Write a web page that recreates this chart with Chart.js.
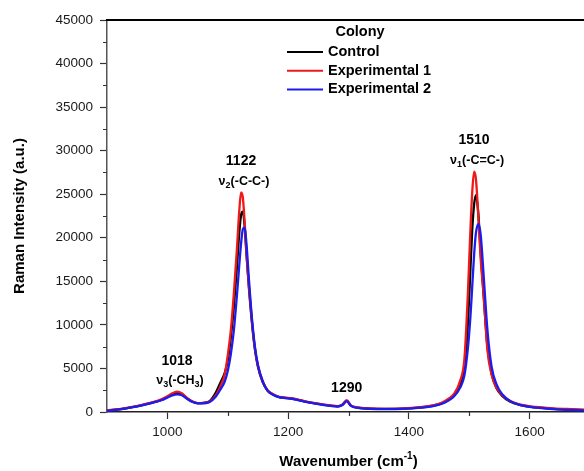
<!DOCTYPE html>
<html>

<head>
    <title>Raman Spectra</title>
    <script src="https://cdn.jsdelivr.net/npm/chart.js"></script>
    <style>
        body {
            background-color: #fff;
            margin: 0;
            padding: 0;
            overflow: hidden;
        }

        #raman-chart {
            display: block;
        }
    </style>
</head>

<body>
    <canvas id="raman-chart" width="596" height="471"></canvas>

    <script>
        // Wavenumber grid (cm-1) shared by all three spectra
        const wavenumber = [900, 920, 940, 960, 975, 990, 1000, 1008, 1016, 1024, 1032, 1040, 1050, 1060, 1070, 1080,
            1088, 1095, 1100, 1105, 1110, 1115, 1119, 1122, 1125, 1128, 1131, 1135, 1140, 1145, 1150, 1158, 1166,
            1175, 1185, 1195, 1205, 1215, 1230, 1250, 1270, 1282, 1290, 1297, 1304, 1315, 1335, 1360, 1390, 1420,
            1440, 1455, 1465, 1475, 1485, 1492, 1498, 1502, 1505, 1508, 1511, 1515, 1519, 1524, 1530, 1537, 1545,
            1555, 1568, 1585, 1610, 1640, 1670, 1700];

        const control = [180, 310, 540, 830, 1080, 1400, 1720, 2020, 2150, 2000, 1600, 1230, 1010, 1050, 1250, 2200,
            3400, 4500, 5900, 8500, 12000, 16500, 20500, 22600, 23000, 21300, 18100, 14300, 10300, 7200, 5200, 3400, 2450,
            2000, 1720, 1620, 1550, 1420, 1170, 920, 730, 650, 840, 1280, 730, 500, 390, 350, 380, 530,
            720, 1020, 1400, 1950, 3200, 5000, 10500, 16500, 21000, 23800, 24900, 22800, 18200, 13200, 7600, 4400, 2750,
            1820, 1180, 780, 520, 370, 270, 180];

        const experimental1 = [200, 330, 560, 850, 1100, 1450, 1800, 2150, 2330, 2150, 1650, 1250, 1020, 1050, 1200, 1900,
            3000, 4300, 6500, 9300, 13500, 18500, 23000, 25200, 24600, 21800, 18300, 14500, 10500, 7300, 5300, 3500, 2500,
            2050, 1750, 1650, 1580, 1450, 1200, 950, 760, 680, 880, 1350, 760, 520, 400, 360, 400, 560,
            760, 1080, 1500, 2100, 3600, 6100, 14000, 21000, 25300, 27600, 26800, 22500, 17500, 13300, 7200, 4300, 2800,
            1900, 1250, 850, 580, 420, 320, 230];

        const experimental2 = [150, 290, 520, 800, 1050, 1350, 1650, 1900, 2030, 1920, 1550, 1200, 980, 1000, 1150, 1750,
            2600, 3500, 4700, 6600, 9300, 13200, 16800, 19300, 21000, 21200, 19300, 15300, 10800, 7500, 5400, 3500, 2450,
            1980, 1700, 1600, 1530, 1400, 1150, 900, 710, 630, 800, 1250, 710, 480, 370, 330, 360, 500,
            680, 950, 1300, 1800, 2800, 4200, 7500, 11000, 14500, 18000, 20500, 21600, 20300, 15500, 9500, 5200, 3200,
            2000, 1250, 780, 500, 340, 230, 150];

        const seriesNames = ['Control', 'Experimental 1', 'Experimental 2'];
        const seriesColors = ['#000000', '#f01818', '#1c1cf0'];
        const legendTitle = 'Colony';

        const xTicks = [1000, 1200, 1400, 1600];
        const xMinorTicks = [1100, 1300, 1500, 1700];
        const yMinorTicks = [2500, 7500, 12500, 17500, 22500, 27500, 32500, 37500, 42500];

        // band labels: position number and vibrational mode ("_n" = subscript)
        const peakNumbers = ['1018', '1122', '1290', '1510'];
        const peakModes = ['ν_3(-CH_3)', 'ν_2(-C-C-)', '', 'ν_1(-C=C-)'];

        const FONT = "'Liberation Sans', Arial, sans-serif";

        function toPoints(values) {
            return values.map((v, i) => ({ x: wavenumber[i], y: v }));
        }

        // draws text with "_d" parts as subscripts, centred on cx
        function drawSubText(ctx, str, cx, cy, size) {
            const parts = str.split(/_(\d)/);
            const big = 'bold ' + size + 'px ' + FONT;
            const small = 'bold ' + Math.round(size * 0.68) + 'px ' + FONT;
            let total = 0;
            parts.forEach((p, i) => {
                ctx.font = i % 2 ? small : big;
                total += ctx.measureText(p).width;
            });
            let x = cx - total / 2;
            ctx.textAlign = 'left';
            ctx.textBaseline = 'middle';
            parts.forEach((p, i) => {
                ctx.font = i % 2 ? small : big;
                ctx.fillText(p, x, i % 2 ? cy + 4 : cy);
                x += ctx.measureText(p).width;
            });
        }

        const extras = {
            id: 'extras',
            afterDatasetsDraw(chart) {
                const ctx = chart.ctx;
                const xs = chart.scales.x;
                const ys = chart.scales.y;
                ctx.save();
                ctx.fillStyle = '#000';
                peakNumbers.forEach((label, k) => {
                    const target = Number(label);
                    // find highest point of any series near the band
                    let best = null;
                    chart.data.datasets.forEach(ds => {
                        ds.data.forEach(p => {
                            if (Math.abs(p.x - target) <= 15 && (!best || p.y > best.y)) best = p;
                        });
                    });
                    const px = xs.getPixelForValue(best.x);
                    const py = ys.getPixelForValue(best.y);
                    ctx.font = 'bold 14px ' + FONT;
                    ctx.textAlign = 'center';
                    ctx.textBaseline = 'middle';
                    if (peakModes[k]) {
                        ctx.fillText(label, px, py - 31);
                        drawSubText(ctx, peakModes[k], px + 3, py - 11, 12.5);
                    } else {
                        ctx.fillText(label, px, py - 12);
                    }
                });
                ctx.restore();
            },
            afterDraw(chart) {
                const ctx = chart.ctx;
                const area = chart.chartArea;
                const xs = chart.scales.x;
                const ys = chart.scales.y;
                ctx.save();

                // top frame line
                ctx.strokeStyle = '#000';
                ctx.lineWidth = 2;
                ctx.beginPath();
                ctx.moveTo(area.left - 1, area.top);
                ctx.lineTo(area.right + 10, area.top);
                ctx.stroke();

                // minor ticks
                ctx.strokeStyle = '#333';
                ctx.lineWidth = 1.2;
                ctx.beginPath();
                yMinorTicks.forEach(v => {
                    const py = Math.round(ys.getPixelForValue(v)) + 0.5;
                    ctx.moveTo(area.left - 4, py);
                    ctx.lineTo(area.left, py);
                });
                xMinorTicks.forEach(v => {
                    const px = Math.round(xs.getPixelForValue(v)) + 0.5;
                    ctx.moveTo(px, area.bottom);
                    ctx.lineTo(px, area.bottom + 4);
                });
                ctx.stroke();

                // x axis title with superscript
                ctx.fillStyle = '#000';
                ctx.textBaseline = 'middle';
                ctx.textAlign = 'left';
                const t1 = 'Wavenumber (cm', t2 = '-1', t3 = ')';
                const bigFont = 'bold 15px ' + FONT, supFont = 'bold 10px ' + FONT;
                ctx.font = bigFont;
                const w1 = ctx.measureText(t1).width, w3 = ctx.measureText(t3).width;
                ctx.font = supFont;
                const w2 = ctx.measureText(t2).width;
                let tx = (area.left + area.right) / 2 - (w1 + w2 + w3) / 2;
                const ty = 462;
                ctx.font = bigFont;
                ctx.fillText(t1, tx, ty);
                ctx.font = supFont;
                ctx.fillText(t2, tx + w1, ty - 6);
                ctx.font = bigFont;
                ctx.fillText(t3, tx + w1 + w2, ty);

                // legend
                ctx.font = 'bold 14.5px ' + FONT;
                ctx.textAlign = 'center';
                ctx.fillText(legendTitle, 360, 32);
                ctx.textAlign = 'left';
                seriesNames.forEach((name, i) => {
                    const ly = 52 + i * 18.7;
                    ctx.strokeStyle = seriesColors[i];
                    ctx.lineWidth = 2;
                    ctx.beginPath();
                    ctx.moveTo(287, ly);
                    ctx.lineTo(323, ly);
                    ctx.stroke();
                    ctx.fillStyle = '#000';
                    ctx.fillText(name, 328, ly);
                });
                ctx.restore();
            }
        };

        const datasets = [control, experimental1, experimental2].map((values, i) => ({
            label: seriesNames[i],
            data: toPoints(values),
            borderColor: seriesColors[i],
            borderWidth: 2.3,
            pointRadius: 0,
            fill: false,
            cubicInterpolationMode: 'monotone',
            order: 3 - i
        }));

        const ctx = document.getElementById('raman-chart').getContext('2d');
        new Chart(ctx, {
            type: 'line',
            data: { datasets: datasets },
            plugins: [extras],
            options: {
                responsive: false,
                animation: false,
                devicePixelRatio: 1,
                layout: {
                    padding: { left: 0, top: 20, right: 6, bottom: 0 }
                },
                plugins: {
                    legend: { display: false },
                    tooltip: { enabled: false }
                },
                scales: {
                    x: {
                        type: 'linear',
                        min: 900,
                        max: 1700,
                        afterBuildTicks: scale => {
                            scale.ticks = xTicks.map(v => ({ value: v }));
                        },
                        afterFit: scale => { scale.height = 59; },
                        grid: {
                            drawOnChartArea: false,
                            drawTicks: true,
                            tickLength: 7,
                            tickWidth: 1.2,
                            tickColor: '#333'
                        },
                        border: { display: true, color: '#222', width: 1.5 },
                        ticks: {
                            padding: 5,
                            color: '#1a1a1a',
                            maxRotation: 0,
                            font: { family: FONT, size: 13.5 },
                            callback: v => String(v)
                        }
                    },
                    y: {
                        type: 'linear',
                        min: 0,
                        max: 45000,
                        afterFit: scale => { scale.width = 107; },
                        grid: {
                            drawOnChartArea: false,
                            drawTicks: true,
                            tickLength: 7,
                            tickWidth: 1.2,
                            tickColor: '#333'
                        },
                        border: { display: true, color: '#555', width: 1.5 },
                        ticks: {
                            stepSize: 5000,
                            padding: 7,
                            color: '#1a1a1a',
                            font: { family: FONT, size: 13.5 },
                            callback: v => String(v)
                        },
                        title: {
                            display: true,
                            text: 'Raman Intensity (a.u.)',
                            color: '#000',
                            font: { family: FONT, size: 15, weight: 'bold' },
                            padding: { top: 11, bottom: 0 }
                        }
                    }
                }
            }
        });
    </script>
</body>

</html>
